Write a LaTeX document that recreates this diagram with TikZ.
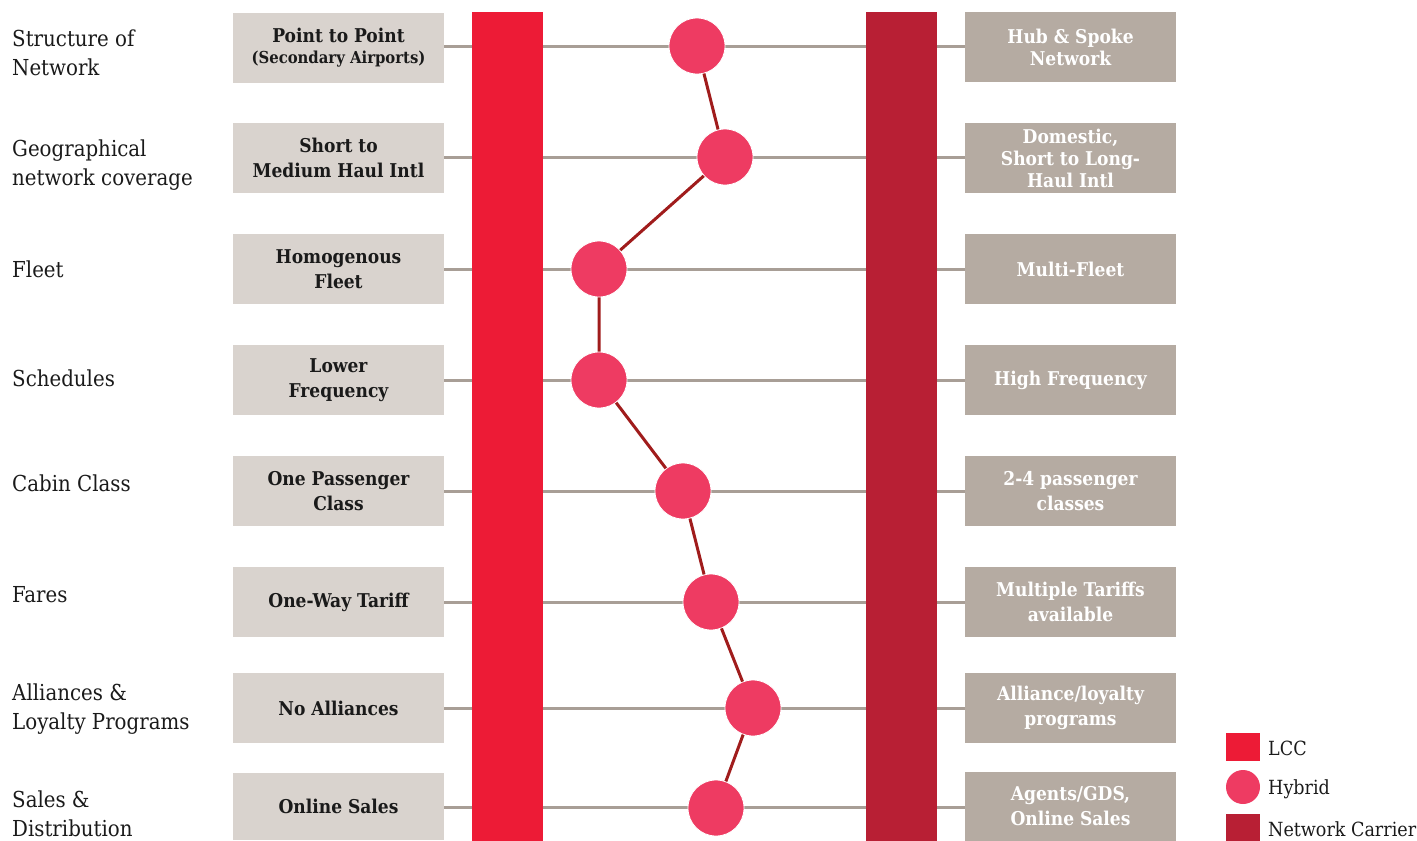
\documentclass[tikz,border=0pt]{standalone}
\usepackage{fontspec}
\setmainfont{DejaVu Serif Condensed}
\usetikzlibrary{backgrounds}
\definecolor{lccc}{HTML}{ED1B36}
\definecolor{ncc}{HTML}{B81F34}
\definecolor{hybc}{HTML}{EE3B62}
\definecolor{hlinec}{HTML}{A01C1C}
\definecolor{grayl}{HTML}{A89E96}
\definecolor{lboxc}{HTML}{D9D3CE}
\definecolor{rboxc}{HTML}{B5ABA2}
\definecolor{txtc}{HTML}{1A1A1A}
\begin{document}
\begin{tikzpicture}[x=1pt,y=-1pt,
  lbox/.style={fill=lboxc, minimum width=211pt, minimum height=70pt, inner sep=0pt, align=center, text=txtc, font=\bfseries\fontsize{19}{25}\selectfont},
  rbox/.style={fill=rboxc, minimum width=211pt, minimum height=70pt, inner sep=0pt, align=center, text=white, font=\bfseries\fontsize{19}{22}\selectfont},
  rowlabel/.style={anchor=west, align=left, inner sep=0pt, text=txtc, font=\fontsize{22}{29}\selectfont},
  hyb/.style={circle, fill=hybc, draw=white, line width=0.8pt, minimum size=56pt, inner sep=0pt},
  bar/.style={minimum width=71pt, minimum height=829pt, inner sep=0pt},
  grayline/.style={draw=grayl, line width=3pt},
  hline/.style={draw=hlinec, line width=3pt},
  legtext/.style={anchor=west, inner sep=0pt, text=txtc, font=\fontsize{19.5}{22}\selectfont}
]
\useasboundingbox (0,0) rectangle (1417,841);

% bars
\node[bar, fill=lccc] (lcc) at (507.5,426.5) {};
\node[bar, fill=ncc] (nc) at (901.5,426.5) {};

% row labels
\node[rowlabel] (t1) at (12,53) {Structure of\\Network};
\node[rowlabel] (t2) at (12,165) {Geographical\\network coverage};
\node[rowlabel] (t3) at (12,269) {Fleet};
\node[rowlabel] (t4) at (12,378) {Schedules};
\node[rowlabel] (t5) at (12,483) {Cabin Class};
\node[rowlabel] (t6) at (12,595) {Fares};
\node[rowlabel] (t7) at (12,709) {Alliances \&\\Loyalty Programs};
\node[rowlabel] (t8) at (12,814) {Sales \&\\Distribution};

% left boxes
\node[lbox] (l1) at (338.5,48) {Point to Point\\[-4pt]{\fontsize{16.5}{18}\selectfont(Secondary Airports)}};
\node[lbox] (l2) at (338.5,158) {Short to\\Medium Haul Intl};
\node[lbox] (l3) at (338.5,269) {Homogenous\\Fleet};
\node[lbox] (l4) at (338.5,380) {Lower\\Frequency};
\node[lbox] (l5) at (338.5,491) {One Passenger\\Class};
\node[lbox] (l6) at (338.5,602) {One-Way Tariff};
\node[lbox] (l7) at (338.5,708) {No Alliances};
\node[lbox, minimum height=67pt] (l8) at (338.5,806.5) {Online Sales};

% right boxes
\node[rbox] (r1) at (1070.5,47) {Hub \& Spoke\\Network};
\node[rbox] (r2) at (1070.5,158) {Domestic,\\Short to Long-\\Haul Intl};
\node[rbox] (r3) at (1070.5,269) {Multi-Fleet};
\node[rbox] (r4) at (1070.5,380) {High Frequency};
\node[rbox, font=\bfseries\fontsize{19}{25}\selectfont] (r5) at (1070.5,491) {2-4 passenger\\classes};
\node[rbox, font=\bfseries\fontsize{19}{25}\selectfont] (r6) at (1070.5,602) {Multiple Tariffs\\available};
\node[rbox, font=\bfseries\fontsize{19}{25}\selectfont] (r7) at (1070.5,708) {Alliance/loyalty\\programs};
\node[rbox, font=\bfseries\fontsize{19}{25}\selectfont] (r8) at (1070.5,806.5) {Agents/GDS,\\Online Sales};

% hybrid circles
\node[hyb] (h1) at (697,46) {};
\node[hyb] (h2) at (725,157) {};
\node[hyb] (h3) at (599,269) {};
\node[hyb] (h4) at (599,380) {};
\node[hyb] (h5) at (683,491) {};
\node[hyb] (h6) at (711,602) {};
\node[hyb] (h7) at (753,708) {};
\node[hyb] (h8) at (716,808) {};

\draw[hline] (h1) -- (h2) -- (h3) -- (h4) -- (h5) -- (h6) -- (h7) -- (h8);

\begin{pgfonlayer}{background}
\foreach \i/\y in {1/46,2/157,3/269,4/380,5/491,6/602,7/708,8/807}{
  \draw[grayline] (l\i.east |- 0,\y) -- (r\i.west |- 0,\y);
}
\end{pgfonlayer}

% legend
\node[minimum width=34pt, minimum height=28pt, inner sep=0pt, fill=lccc] (k1) at (1243,747) {};
\node[circle, minimum size=34pt, inner sep=0pt, fill=hybc] (k2) at (1243,787) {};
\node[minimum width=34pt, minimum height=27pt, inner sep=0pt, fill=ncc] (k3) at (1243,827.5) {};
\node[legtext] (kt1) at (1268,748) {LCC};
\node[legtext] (kt2) at (1268,789) {Hybrid};
\node[legtext] (kt3) at (1268,829) {Network Carrier};
\end{tikzpicture}
\end{document}
